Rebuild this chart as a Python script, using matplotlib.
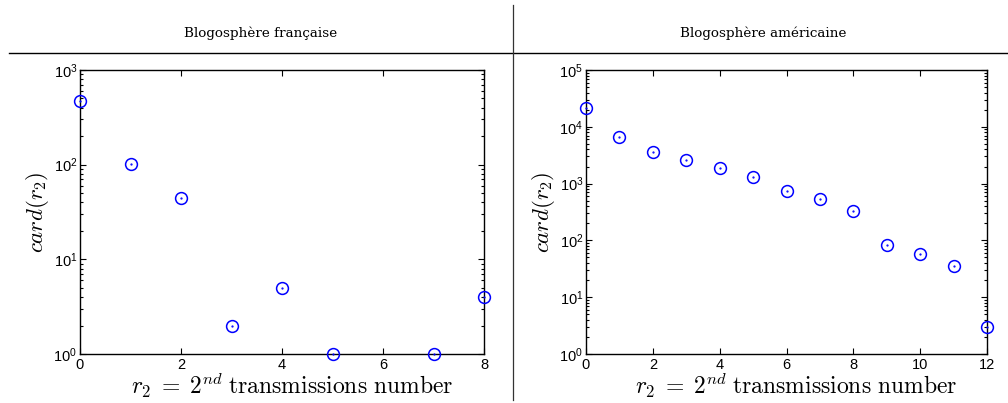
import math
import matplotlib
matplotlib.use("Agg")
import matplotlib.pyplot as plt
from matplotlib.lines import Line2D
from matplotlib.ticker import LogLocator, FuncFormatter, NullFormatter, FixedLocator

plt.rcParams['mathtext.fontset'] = 'custom'
plt.rcParams['mathtext.rm'] = 'Liberation Sans'
plt.rcParams['mathtext.it'] = 'Liberation Sans:italic'
plt.rcParams['font.family'] = ['Liberation Sans', 'DejaVu Sans']

# Data
titles = ["Blogosphère française", "Blogosphère américaine"]
fr_x = [0, 1, 2, 3, 4, 5, 7, 8]
fr_y = [470, 101, 44, 2, 5, 1, 1, 4]
us_x = [0, 1, 2, 3, 4, 5, 6, 7, 8, 9, 10, 11, 12]
us_y = [21500, 6700, 3600, 2600, 1860, 1290, 740, 542, 330, 83, 58, 35, 3]
fr_xticks = [0, 2, 4, 6, 8]
us_xticks = [0, 2, 4, 6, 8, 10, 12]

W, H = 1008, 403
fig = plt.figure(figsize=(W / 100, H / 100), dpi=100)

def fx(px):
    return px / W

def fy(py):
    return 1 - py / H

ax1 = fig.add_axes([fx(80), fy(354), fx(484) - fx(80), fy(70) - fy(354)])
ax2 = fig.add_axes([fx(586), fy(354), fx(987) - fx(586), fy(70) - fy(354)])

def fmt(v, pos):
    e = int(round(math.log10(v)))
    return r"$\mathdefault{10^{%d}}$" % e

for ax, xs, ys, xt, ymax, title, xc, wpx in [
    (ax1, fr_x, fr_y, fr_xticks, 1e3, titles[0], 261, 404),
    (ax2, us_x, us_y, us_xticks, 1e5, titles[1], 763, 401),
]:
    ax.set_yscale('log')
    ax.plot(xs, ys, linestyle='none', marker='o', markersize=8.5,
            markerfacecolor='none', markeredgecolor='#0000ff',
            markeredgewidth=1.1, clip_on=False, zorder=3)
    ax.plot(xs, ys, linestyle='none', marker='.', markersize=1.2,
            color='#0000ff', clip_on=False, zorder=3)
    ax.set_xlim(xt[0], xt[-1])
    ax.set_ylim(1, ymax)
    ax.xaxis.set_major_locator(FixedLocator(xt))
    ax.yaxis.set_major_locator(LogLocator(base=10, numticks=10))
    ax.yaxis.set_minor_locator(LogLocator(base=10, subs=range(2, 10), numticks=100))
    ax.yaxis.set_major_formatter(FuncFormatter(fmt))
    ax.yaxis.set_minor_formatter(NullFormatter())
    ax.tick_params(which='both', direction='in', top=True, right=True,
                   labelsize=10.5, width=0.8, colors='black')
    ax.tick_params(which='major', length=4)
    ax.tick_params(which='minor', length=2)
    ax.tick_params(axis='x', pad=3)
    ax.tick_params(axis='y', pad=2)
    for s in ax.spines.values():
        s.set_linewidth(1.0)
    ax.set_ylabel(r"$card(r_2)$", fontsize=16.5, math_fontfamily='cm', labelpad=2)
    ax.set_xlabel(r"$r_2\;=\;2^{nd}\;\mathrm{transmissions\ number}$",
                  fontsize=17, math_fontfamily='cm', labelpad=-1)
    ax.xaxis.label.set_x(0.5 + 10.0 / wpx)
    fig.text(fx(xc), fy(33), title, ha='center', va='center',
             fontsize=9.7, family='DejaVu Serif')

fig.add_artist(Line2D([fx(9), 1.0], [fy(53), fy(53)], color='black', lw=1.0))
fig.add_artist(Line2D([fx(513), fx(513)], [fy(5), fy(400)], color='#333333', lw=0.9))

fig.savefig("out.png", dpi=100)
